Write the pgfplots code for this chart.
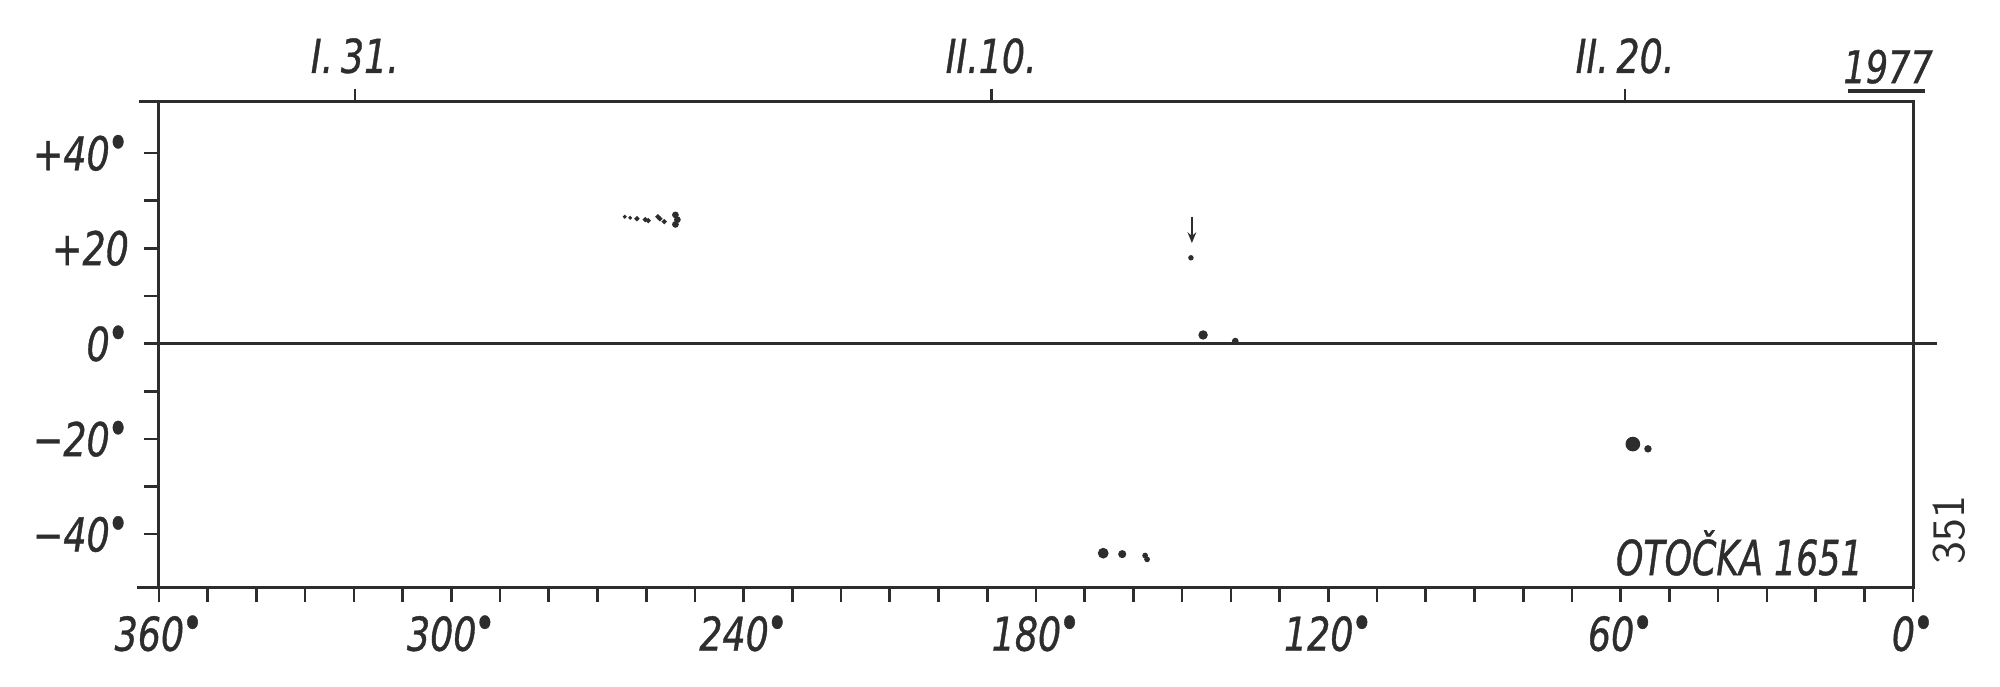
\documentclass[border=0pt]{standalone}
\usepackage{fontspec}
\setmainfont{DejaVu Sans}[FakeStretch=0.78, FakeBold=0.8]
\newfontfamily\narrowfont{DejaVu Sans}[FakeStretch=0.72, FakeBold=0.8]
\usepackage{pgfplots}
\pgfplotsset{compat=1.18}
\usetikzlibrary{arrows.meta}
\definecolor{ink}{RGB}{45,45,45}
\newcommand\dg{\kern-0.05em\raisebox{0.24em}{\fontsize{14}{14}\selectfont•}}
\begin{document}
\begin{tikzpicture}
\pgfplotsset{every axis/.append style={scale only axis, width=526.2pt, height=145.5pt,
  xmin=0, xmax=360, x dir=reverse, ymin=-51.1, ymax=50.7, clip=false}}
\begin{axis}[
  axis line style={ink, line width=0.9pt},
  tick style={ink, line width=0.8pt},
  tick align=outside,
  xtick pos=left, ytick pos=left,
  xtick={0,60,...,360},
  xticklabels={0\dg,60\dg,120\dg,180\dg,240\dg,300\dg,360\dg},
  minor xtick={0,10,...,360},
  ytick={-40,-20,0,20,40},
  yticklabels={−40\dg,−20\dg,0\dg,+20,+40\dg},
  minor ytick={-30,-10,10,30},
  major tick length=4.5pt, minor tick length=4.5pt,
  ticklabel style={font=\itshape\fontsize{14}{14}\selectfont, text=ink},
  xticklabel style={yshift=-0.5pt},
  yticklabel style={xshift=-1pt},
]
% zero line and line extensions
\addplot[ink, line width=1pt] coordinates {(360,0) (-5,0)};
\addplot[ink, line width=0.9pt] coordinates {(364,50.7) (360,50.7)};
\addplot[ink, line width=0.9pt] coordinates {(364.5,-51.1) (360,-51.1)};
% cluster near +26
\addplot[only marks, mark=*, mark size=0.35pt, ink, mark options={draw=none, fill=ink}]
  coordinates {(264.4,26.6) (263.3,26.4)};
\addplot[only marks, mark=*, mark size=0.55pt, ink, mark options={draw=none, fill=ink}]
  coordinates {(261.9,26.2) (260.2,26.0) (259.6,25.8) (257.6,26.6) (257.2,26.2) (256.3,25.6)};
\addplot[only marks, mark=*, mark size=0.8pt, ink, mark options={draw=none, fill=ink}]
  coordinates {(254.0,27.0) (253.6,26.0) (254.0,25.0)};
% arrow and marked point
\addplot[ink, line width=0.5pt, -{Stealth[length=3.2pt,width=2.6pt]}] coordinates {(148.0,26.6) (148.0,21.1)};
\addplot[only marks, mark=*, mark size=0.6pt, ink, mark options={draw=none, fill=ink}]
  coordinates {(148.2,18.0)};
% near equator
\addplot[only marks, mark=*, mark size=1.2pt, ink, mark options={draw=none, fill=ink}]
  coordinates {(145.7,1.8)};
\addplot[only marks, mark=*, mark size=0.8pt, ink, mark options={draw=none, fill=ink}]
  coordinates {(139.1,0.5)};
% southern cluster
\addplot[only marks, mark=*, mark size=1.4pt, ink, mark options={draw=none, fill=ink}]
  coordinates {(166.2,-44.0)};
\addplot[only marks, mark=*, mark size=1.0pt, ink, mark options={draw=none, fill=ink}]
  coordinates {(162.3,-44.2)};
\addplot[only marks, mark=*, mark size=0.65pt, ink, mark options={draw=none, fill=ink}]
  coordinates {(157.6,-44.5) (157.2,-45.3)};
% near 57 deg
\addplot[only marks, mark=*, mark size=2.0pt, ink, mark options={draw=none, fill=ink}]
  coordinates {(57.5,-21.1)};
\addplot[only marks, mark=*, mark size=0.9pt, ink, mark options={draw=none, fill=ink}]
  coordinates {(54.4,-22.1)};
% texts
\node[anchor=base east, font=\narrowfont\itshape\fontsize{14.5}{15}\selectfont, text=ink, inner sep=0pt]
  at (axis cs:10.2,-48.6) {OTOČKA 1651};
\node[font=\itshape\fontsize{13.5}{14}\selectfont, text=ink, inner sep=0pt]
  at (axis cs:5.1,58.1) {1977};
\draw[ink, line width=1pt] (axis cs:13.3,53.0) -- (axis cs:-2.5,53.0);
\node[rotate=90, font=\sffamily\fontsize{14}{14}\selectfont, text=ink, inner sep=0pt]
  at (axis cs:-7.4,-39.2) {351};
\end{axis}
\begin{axis}[
  axis x line*=top, axis y line=none,
  axis line style={ink, line width=0.9pt},
  tick style={ink, line width=0.8pt},
  tick align=outside, major tick length=4pt,
  xtick={319.8,189.2,59.1},
  xticklabels={I.\,31.,II.10.,II.\,20.},
  ticklabel style={font=\itshape\fontsize{14}{14}\selectfont, text=ink},
  xticklabel style={yshift=1pt},
]
\end{axis}
\pgfresetboundingbox
\path[use as bounding box] ([xshift=-47.7pt,yshift=-29.7pt]current axis.south west) rectangle ([xshift=26.1pt,yshift=30.6pt]current axis.north east);
\end{tikzpicture}
\end{document}
